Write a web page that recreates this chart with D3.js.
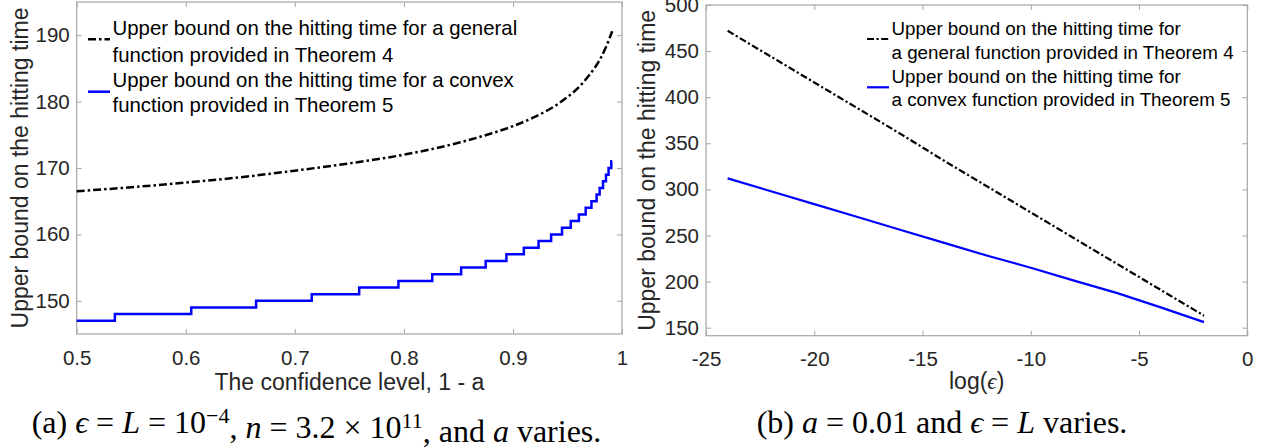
<!DOCTYPE html>
<html>
<head>
<meta charset="utf-8">
<script src="https://cdn.jsdelivr.net/npm/d3@7"></script>
<style>
  body { margin: 0; background: #fff; }
  svg { display: block; font-family: "Liberation Sans", Arial, sans-serif; }
  .tick text { fill: #262626; font-size: 20.5px; }
  .tick line { stroke: #a6a6a6; }
</style>
</head>
<body>
<div id="container"></div>
<script>
// ---- left panel: bound vs confidence level 1 - a
var confX = [0.50, 0.55, 0.60, 0.65, 0.70, 0.75, 0.80, 0.85, 0.88, 0.90, 0.92, 0.94, 0.95, 0.96, 0.97, 0.975, 0.98, 0.985, 0.991];
var generalA = [166.5, 167.1, 167.8, 168.6, 169.6, 170.7, 172.0, 173.8, 175.2, 176.3, 177.7, 179.5, 180.7, 182.1, 184.0, 185.1, 186.4, 188.1, 190.6];

// blue line is a staircase, x where each new level starts
var stepX = [0.5, 0.535, 0.605, 0.6645, 0.7155, 0.759, 0.795, 0.826, 0.8525, 0.875, 0.894, 0.910, 0.9235, 0.935, 0.945, 0.953, 0.9605, 0.9667, 0.972, 0.9767, 0.9795, 0.9826, 0.9853, 0.9877, 0.9902, 0.991];
var convexA = [147, 148, 149, 150, 151, 152, 153, 154, 155, 156, 157, 158, 159, 160, 161, 162, 163, 164, 165, 166, 167, 168, 169, 170, 171, 171];

var leftXTicks = [0.5, 0.6, 0.7, 0.8, 0.9, 1];
var leftXTickLabels = ["0.5", "0.6", "0.7", "0.8", "0.9", "1"];
var leftYTicks = [150, 160, 170, 180, 190];
var leftYTickLabels = ["150", "160", "170", "180", "190"];

// ---- right panel: bound vs log(eps)
var logEps = [-24, -22, -20, -18, -16, -14, -12, -10, -8, -6, -4, -2];
var generalB = [472, 444, 416, 388, 360, 331, 303, 275, 247, 219, 191, 163];
var convexB = [312, 298, 284, 270, 256, 242, 228, 215, 201, 187.5, 172, 156];

var rightXTicks = [-25, -20, -15, -10, -5, 0];
var rightXTickLabels = ["-25", "-20", "-15", "-10", "-5", "0"];
var rightYTicks = [150, 200, 250, 300, 350, 400, 450, 500];
var rightYTickLabels = ["150", "200", "250", "300", "350", "400", "450", "500"];

var legendA = [
  ["Upper bound on the hitting time for a general", "function provided in Theorem 4"],
  ["Upper bound on the hitting time for a convex", "function provided in Theorem 5"]
];
var legendB = [
  ["Upper bound on the hitting time for", "a general function provided in Theorem 4"],
  ["Upper bound on the hitting time for", "a convex function provided in Theorem 5"]
];
var yTitle = "Upper bound on the hitting time";

var width = 1271;
var height = 448;
var axisGray = "#a6a6a6";
var textDark = "#262626";

var svg = d3.select("#container")
  .append("svg")
  .attr("width", width)
  .attr("height", height);

function drawPanel(p) {
  var x = d3.scaleLinear().domain(p.xDomain).range([p.left, p.right]);
  var y = d3.scaleLinear().domain(p.yDomain).range([p.bottom, p.top]);
  var g = svg.append("g");

  g.append("rect")
    .attr("x", p.left)
    .attr("y", p.top)
    .attr("width", p.right - p.left)
    .attr("height", p.bottom - p.top)
    .attr("fill", "none")
    .attr("stroke", axisGray)
    .attr("stroke-width", 1.2);

  // ticks point inward on all four sides, labels only bottom / left
  g.append("g")
    .attr("transform", "translate(0," + p.bottom + ")")
    .call(d3.axisBottom(x).tickValues(p.xTicks).tickSize(-5).tickSizeOuter(0).tickPadding(16)
      .tickFormat((d, i) => p.xLabels[i]));
  g.append("g")
    .attr("transform", "translate(0," + p.top + ")")
    .call(d3.axisTop(x).tickValues(p.xTicks).tickSize(-5).tickSizeOuter(0).tickFormat(""));
  g.append("g")
    .attr("transform", "translate(" + p.left + ",0)")
    .call(d3.axisLeft(y).tickValues(p.yTicks).tickSize(-5).tickSizeOuter(0).tickPadding(7)
      .tickFormat((d, i) => p.yLabels[i]));
  g.append("g")
    .attr("transform", "translate(" + p.right + ",0)")
    .call(d3.axisRight(y).tickValues(p.yTicks).tickSize(-5).tickSizeOuter(0).tickFormat(""));
  g.selectAll(".domain").remove();
  g.selectAll(".tick text").attr("font-family", null);

  // axis titles
  g.append("text")
    .attr("x", (p.left + p.right) / 2)
    .attr("y", p.xTitleY)
    .attr("text-anchor", "middle")
    .attr("fill", textDark)
    .style("font-size", "23px")
    .text(p.xTitle)
    .call(p.xTitleExtra || function() {});

  g.append("text")
    .attr("transform", "translate(" + p.yTitleX + "," + (p.top + p.bottom) / 2 + ") rotate(-90)")
    .attr("text-anchor", "middle")
    .attr("fill", textDark)
    .style("font-size", "23px")
    .text(yTitle);

  // lines
  var general = d3.line()
    .x(d => x(d[0]))
    .y(d => y(d[1]))
    .curve(p.generalCurve);
  var convex = d3.line()
    .x(d => x(d[0]))
    .y(d => y(d[1]))
    .curve(p.convexCurve);

  g.append("path")
    .datum(d3.zip(p.convexX, p.convexY))
    .attr("d", convex)
    .attr("fill", "none")
    .attr("stroke", "#0000ff")
    .attr("stroke-width", p.lw);

  g.append("path")
    .datum(d3.zip(p.generalX, p.generalY))
    .attr("d", general)
    .attr("fill", "none")
    .attr("stroke", "#000")
    .attr("stroke-width", p.lw)
    .attr("stroke-dasharray", p.dash);

  // legend
  var lg = g.append("g");
  p.legend.forEach(function(lines, i) {
    lg.append("line")
      .attr("x1", p.legX)
      .attr("x2", p.legX + 22)
      .attr("y1", p.sampleY[i])
      .attr("y2", p.sampleY[i])
      .attr("stroke", i == 0 ? "#000" : "#0000ff")
      .attr("stroke-width", p.lw)
      .attr("stroke-dasharray", i == 0 ? p.dash : null);
    lines.forEach(function(t, j) {
      lg.append("text")
        .attr("x", p.legX + 24.5)
        .attr("y", p.legBase[i * 2 + j])
        .attr("fill", "#000")
        .style("font-size", p.legFont + "px")
        .text(t);
    });
  });
}

drawPanel({
  left: 76.7, right: 622, top: 2, bottom: 334,
  xDomain: [0.5, 1], yDomain: [145, 195],
  xTicks: leftXTicks, xLabels: leftXTickLabels,
  yTicks: leftYTicks, yLabels: leftYTickLabels,
  xTitle: "The confidence level, 1 - a", xTitleY: 390, yTitleX: 28,
  generalX: confX, generalY: generalA, generalCurve: d3.curveMonotoneX,
  convexX: stepX, convexY: convexA, convexCurve: d3.curveStepAfter,
  lw: 2.5, dash: "8,3,2.5,3",
  legend: legendA, legX: 88, sampleY: [39.3, 91.7], legBase: [35, 61.5, 86.5, 112], legFont: 20.4
});

drawPanel({
  left: 706, right: 1247.3, top: 5, bottom: 335.7,
  xDomain: [-25, 0], yDomain: [141.3, 500],
  xTicks: rightXTicks, xLabels: rightXTickLabels,
  yTicks: rightYTicks, yLabels: rightYTickLabels,
  xTitle: "log(", xTitleY: 389, yTitleX: 655,
  xTitleExtra: function(t) {
    t.append("tspan").attr("font-family", "Liberation Serif, serif").style("font-style", "italic").text("\u03f5");
    t.append("tspan").text(")");
  },
  generalX: logEps, generalY: generalB, generalCurve: d3.curveLinear,
  convexX: logEps, convexY: convexB, convexCurve: d3.curveLinear,
  lw: 2.2, dash: "7,2.5,2.2,2.5",
  legend: legendB, legX: 867, sampleY: [39, 87.3], legBase: [35, 58.5, 82.5, 106], legFont: 18.8
});

// captions (serif, math-ish)
function caption(cx, parts) {
  var t = svg.append("text")
    .attr("x", cx)
    .attr("y", 433)
    .attr("text-anchor", "middle")
    .attr("font-family", "Liberation Serif, 'DejaVu Serif', serif")
    .style("font-size", "32px")
    .attr("fill", "#000");
  parts.forEach(function(s) {
    var ts = t.append("tspan").text(s.t);
    if (s.i) ts.style("font-style", "italic");
    if (s.sup) ts.attr("dy", "-0.45em").style("font-size", "22px");
    if (s.down) ts.attr("dy", "0.45em");
  });
}

caption(316.5, [
  {t: "(a) "}, {t: "\u03f5", i: 1}, {t: " = "}, {t: "L", i: 1}, {t: " = 10"},
  {t: "\u22124", sup: 1}, {t: ", ", down: 1}, {t: "n", i: 1}, {t: " = 3.2 \u00d7 10"},
  {t: "11", sup: 1}, {t: ", and ", down: 1}, {t: "a", i: 1}, {t: " varies."}
]);
caption(942, [
  {t: "(b) "}, {t: "a", i: 1}, {t: " = 0.01 and "}, {t: "\u03f5", i: 1}, {t: " = "},
  {t: "L", i: 1}, {t: " varies."}
]);
</script>
</body>
</html>
